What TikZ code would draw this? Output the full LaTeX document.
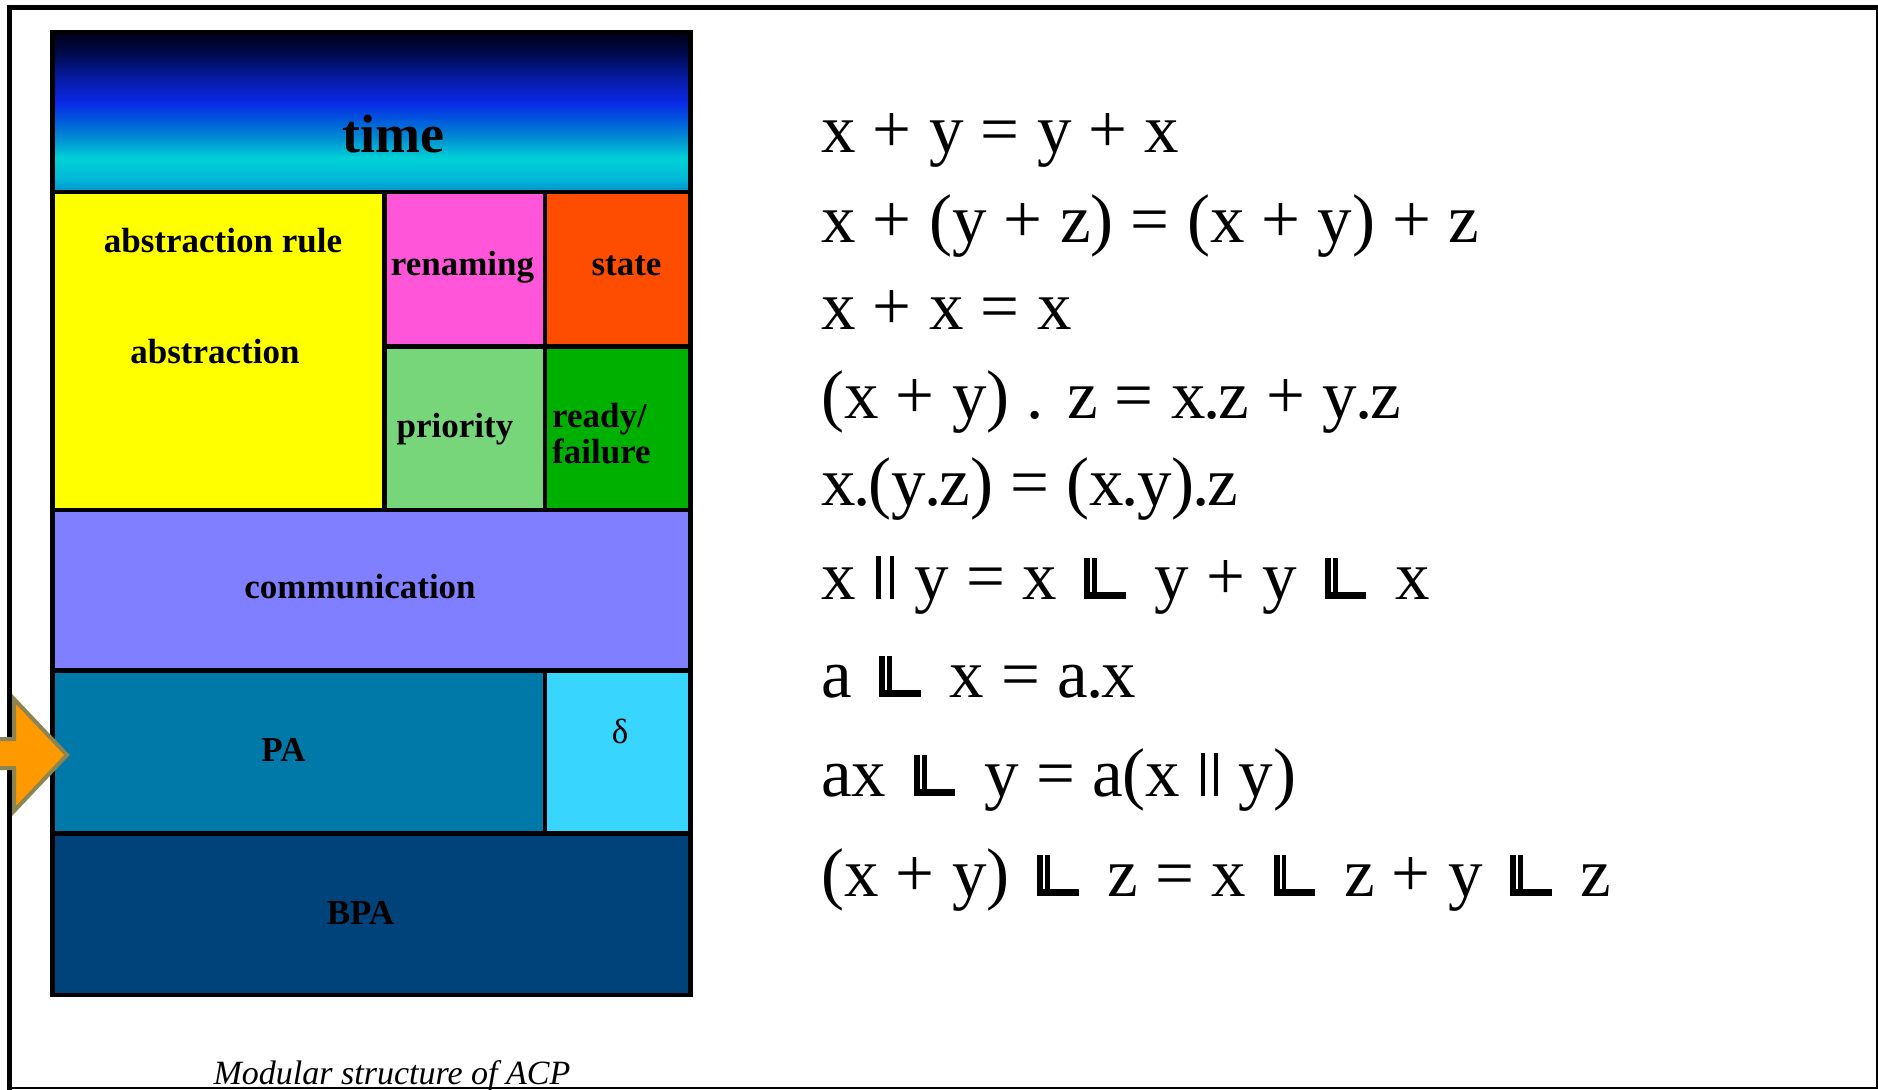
\documentclass[tikz,border=0pt]{standalone}
\usepackage{fontspec}
\setmainfont{Liberation Serif}
\definecolor{AbsClr}{RGB}{255,255,0}
\definecolor{RenClr}{RGB}{255,85,216}
\definecolor{StateClr}{RGB}{255,77,0}
\definecolor{PrioClr}{RGB}{119,213,122}
\definecolor{ReadyClr}{RGB}{0,176,0}
\definecolor{CommClr}{RGB}{127,127,255}
\definecolor{PAClr}{RGB}{0,121,168}
\definecolor{DeltaClr}{RGB}{56,214,255}
\definecolor{BPAClr}{RGB}{0,67,122}
\definecolor{ArrowClr}{RGB}{255,153,0}
\definecolor{ArrowLineClr}{RGB}{140,133,82}
\definecolor{TimeA}{RGB}{0,0,20}
\definecolor{TimeB}{RGB}{0,10,80}
\definecolor{TimeC}{RGB}{5,25,150}
\definecolor{TimeD}{RGB}{10,40,230}
\definecolor{TimeE}{RGB}{0,90,220}
\definecolor{TimeF}{RGB}{0,140,210}
\definecolor{TimeG}{RGB}{0,210,215}
\definecolor{TimeH}{RGB}{0,185,215}
\definecolor{TimeI}{RGB}{0,145,205}
\pgfdeclareverticalshading{timeshade}{100bp}{color(0bp)=(TimeI); color(25bp)=(TimeI);
  color(29.5bp)=(TimeH); color(35.5bp)=(TimeG); color(42bp)=(TimeF); color(47.5bp)=(TimeE);
  color(53bp)=(TimeD); color(62bp)=(TimeC); color(68bp)=(TimeB); color(75bp)=(TimeA);
  color(100bp)=(TimeA)}
% left merge, parallel bars, tight dot
\newcommand\lmerge{\mbox{\hspace{0.15em}\rule{0.085em}{0.6em}\hspace{0.03em}\rule{0.07em}{0.6em}%
  \hspace{-0.185em}\rule{0.6em}{0.1em}\hspace{0.17em}}}
\newcommand\parl{\mbox{\hspace{0.05em}\rule{0.06em}{0.62em}\hspace{0.13em}\rule{0.06em}{0.62em}\hspace{0.05em}}}
\newcommand\dt{\kern-0.03em.\kern-0.03em}

\begin{document}
\begin{tikzpicture}[x=1pt,y=-1pt,
  cell/.style={draw=black,line width=4.5pt},
  boxtxt/.style={font=\fontsize{35}{36}\selectfont\bfseries,inner sep=0pt,anchor=base},
  eqn/.style={font=\fontsize{69}{72}\selectfont,inner sep=0pt,anchor=base west}]
\useasboundingbox (0,0) rectangle (1878,1089);

\node[font=\fontsize{34}{35}\selectfont\itshape,inner sep=0pt,anchor=base] (cap) at (392,1084) {Modular structure of ACP};

% frame
\draw[line width=2pt] (9,1088) -- (1877,1088) -- (1877,8);
\draw[line width=5pt] (9,1095) -- (9,8) -- (1880,8);

% layers
\shade[shading=timeshade] (52.5,32) rectangle (690.5,192);
\draw[cell] (52.5,32) rectangle (690.5,192);
\draw[cell,fill=AbsClr] (52.5,192) rectangle (384.5,510);
\draw[cell,fill=RenClr] (384.5,192) rectangle (545,346.5);
\draw[cell,fill=StateClr] (545,192) rectangle (690.5,346.5);
\draw[cell,fill=PrioClr] (384.5,346.5) rectangle (545,510);
\draw[cell,fill=ReadyClr] (545,346.5) rectangle (690.5,510);
\draw[cell,fill=CommClr] (52.5,510) rectangle (690.5,670.5);
\draw[cell,fill=PAClr] (52.5,670.5) rectangle (545,833.5);
\draw[cell,fill=DeltaClr] (545,670.5) rectangle (690.5,833.5);
\draw[cell,fill=BPAClr] (52.5,833.5) rectangle (690.5,995);

\node[boxtxt,font=\fontsize{54}{56}\selectfont\bfseries] (time) at (393,152) {time};
\node[boxtxt] (absrule) at (223,252) {abstraction rule};
\node[boxtxt] (abs) at (215,363.5) {abstraction};
\node[boxtxt] (ren) at (462.5,275) {renaming};
\node[boxtxt] (state) at (626.5,275) {state};
\node[boxtxt] (prio) at (455,437.5) {priority};
\node[boxtxt,anchor=base west] (ready) at (552,427.5) {ready/};
\node[boxtxt,anchor=base west] (fail) at (552,463) {failure};
\node[boxtxt] (comm) at (360,598.5) {communication};
\node[boxtxt] (pa) at (283.5,761) {PA};
\node[boxtxt,font=\fontsize{35}{36}\selectfont] (delta) at (620,743) {δ};
\node[boxtxt] (bpa) at (360.5,924.5) {BPA};

\draw[line width=4pt,draw=ArrowLineClr,fill=ArrowClr] (-5,739) -- (14,739) -- (14,699) -- (67,755)
  -- (14,811) -- (14,768) -- (-5,768);

% axioms
\node[eqn] (e1) at (821,153) {x + y = y + x};
\node[eqn] (e2) at (821,242) {x + (y + z) = (x + y) + z};
\node[eqn] (e3) at (821,329) {x + x = x};
\node[eqn] (e4) at (821,418) {(x + y) . z = x\dt z + y\dt z};
\node[eqn] (e5) at (821,505) {x\dt(y\dt z) = (x\dt y)\dt z};
\node[eqn] (e6) at (821,599) {x \parl{} y = x \lmerge{} y + y \lmerge{} x};
\node[eqn] (e7) at (821,697) {a \lmerge{} x = a\dt x};
\node[eqn] (e8) at (821,796) {ax \lmerge{} y = a(x \parl{} y)};
\node[eqn] (e9) at (821,896) {(x + y) \lmerge{} z = x \lmerge{} z + y \lmerge{} z};
\end{tikzpicture}
\end{document}
